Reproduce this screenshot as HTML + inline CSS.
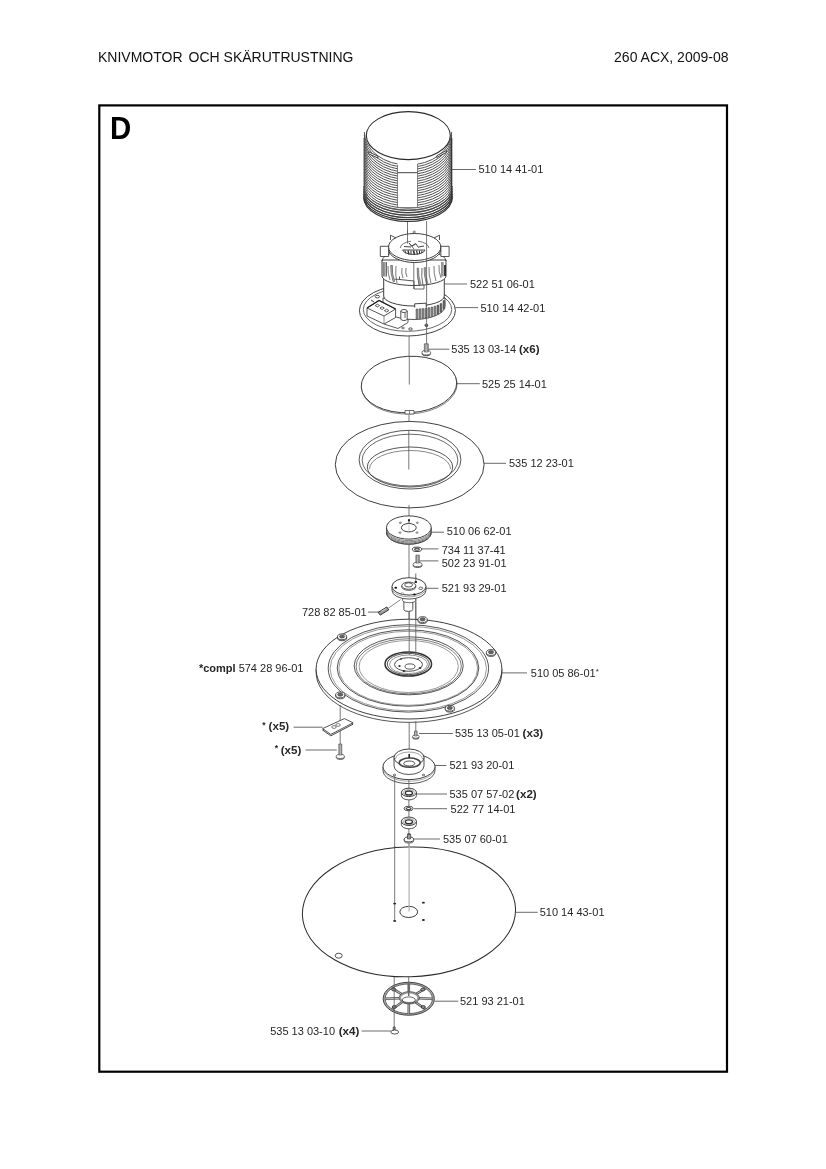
<!DOCTYPE html>
<html><head><meta charset="utf-8"><style>
html,body{margin:0;padding:0;background:#fff;}
body{width:826px;height:1169px;position:relative;overflow:hidden;font-family:"Liberation Sans",sans-serif;}
.hd{position:absolute;top:48px;font-size:13px;color:#111;white-space:pre;line-height:15px;}
svg{position:absolute;left:0;top:0;filter:grayscale(100%);}
svg text{font-family:"Liberation Sans",sans-serif;font-size:11px;fill:#262626;}
</style></head><body>
<svg width="826" height="1169" viewBox="0 0 826 1169">
<rect x="99.3" y="105.4" width="627.7" height="966.3" fill="none" stroke="#000" stroke-width="2.2"/>
<text transform="translate(110.1,138.7) scale(0.95,1)" x="0" y="0" style="font-size:31px;font-weight:bold;fill:#000">D</text>
<text x="98" y="61.8" style="font-size:14px;fill:#111">KNIVMOTOR</text>
<text x="188.6" y="61.8" style="font-size:14px;fill:#111">OCH SKÄRUTRUSTNING</text>
<text x="728.5" y="61.8" text-anchor="end" style="font-size:14px;fill:#111">260 ACX, 2009-08</text>
<path d="M364,136 L364,197 A44,24 0 0 0 452,197 L452,136 Z" stroke="#2a2a2a" stroke-width="0" fill="#fff" />
<path d="M364.30,132.00 A43.7,33.0 0 0 0 451.70,132.00" stroke="#4a4a4a" stroke-width="0.95" fill="none" />
<path d="M364.30,134.85 A43.7,32.55 0 0 0 451.70,134.85" stroke="#4a4a4a" stroke-width="0.95" fill="none" />
<path d="M364.30,137.70 A43.7,32.1 0 0 0 451.70,137.70" stroke="#4a4a4a" stroke-width="0.95" fill="none" />
<path d="M364.30,140.55 A43.7,31.65 0 0 0 451.70,140.55" stroke="#4a4a4a" stroke-width="0.95" fill="none" />
<path d="M364.30,143.40 A43.7,31.2 0 0 0 451.70,143.40" stroke="#4a4a4a" stroke-width="0.95" fill="none" />
<path d="M364.30,146.25 A43.7,30.75 0 0 0 451.70,146.25" stroke="#4a4a4a" stroke-width="0.95" fill="none" />
<path d="M364.30,149.10 A43.7,30.3 0 0 0 451.70,149.10" stroke="#4a4a4a" stroke-width="0.95" fill="none" />
<path d="M364.30,151.95 A43.7,29.85 0 0 0 451.70,151.95" stroke="#4a4a4a" stroke-width="0.95" fill="none" />
<path d="M364.30,154.80 A43.7,29.4 0 0 0 451.70,154.80" stroke="#4a4a4a" stroke-width="0.95" fill="none" />
<path d="M364.30,157.65 A43.7,28.95 0 0 0 451.70,157.65" stroke="#4a4a4a" stroke-width="0.95" fill="none" />
<path d="M364.30,160.50 A43.7,28.5 0 0 0 451.70,160.50" stroke="#4a4a4a" stroke-width="0.95" fill="none" />
<path d="M364.30,163.35 A43.7,28.05 0 0 0 451.70,163.35" stroke="#4a4a4a" stroke-width="0.95" fill="none" />
<path d="M364.30,166.20 A43.7,27.6 0 0 0 451.70,166.20" stroke="#4a4a4a" stroke-width="0.95" fill="none" />
<path d="M364.30,169.05 A43.7,27.15 0 0 0 451.70,169.05" stroke="#4a4a4a" stroke-width="0.95" fill="none" />
<path d="M364.30,171.90 A43.7,26.7 0 0 0 451.70,171.90" stroke="#4a4a4a" stroke-width="0.95" fill="none" />
<path d="M364.30,174.75 A43.7,26.25 0 0 0 451.70,174.75" stroke="#4a4a4a" stroke-width="0.95" fill="none" />
<path d="M364.30,177.60 A43.7,25.8 0 0 0 451.70,177.60" stroke="#4a4a4a" stroke-width="0.95" fill="none" />
<path d="M364.30,180.45 A43.7,25.35 0 0 0 451.70,180.45" stroke="#4a4a4a" stroke-width="0.95" fill="none" />
<path d="M364.30,183.30 A43.7,24.9 0 0 0 451.70,183.30" stroke="#4a4a4a" stroke-width="0.95" fill="none" />
<path d="M364.30,186.15 A43.7,24.45 0 0 0 451.70,186.15" stroke="#4a4a4a" stroke-width="0.95" fill="none" />
<path d="M364.30,189.00 A43.7,24.0 0 0 0 451.70,189.00" stroke="#4a4a4a" stroke-width="0.95" fill="none" />
<path d="M364.30,191.85 A43.7,23.549999999999997 0 0 0 451.70,191.85" stroke="#4a4a4a" stroke-width="0.95" fill="none" />
<path d="M364.30,194.70 A43.7,23.1 0 0 0 451.70,194.70" stroke="#4a4a4a" stroke-width="0.95" fill="none" />
<path d="M363.70,186.00 A44.3,24 0 0 0 452.30,186.00" stroke="#555" stroke-width="1.0" fill="none" />
<path d="M363.70,188.50 A44.3,24 0 0 0 452.30,188.50" stroke="#444" stroke-width="1.1" fill="none" />
<path d="M363.70,191.00 A44.3,24 0 0 0 452.30,191.00" stroke="#444" stroke-width="1.1" fill="none" />
<path d="M363.70,193.50 A44.3,24 0 0 0 452.30,193.50" stroke="#3a3a3a" stroke-width="1.2" fill="none" />
<path d="M363.70,195.70 A44.3,24 0 0 0 452.30,195.70" stroke="#333" stroke-width="1.2" fill="none" />
<path d="M363.70,197.50 A44.3,24 0 0 0 452.30,197.50" stroke="#333" stroke-width="1.2" fill="none" />
<path d="M397.5,163 L397.5,207.5 L417.5,207.5 L417.5,163 Z" stroke="#2a2a2a" stroke-width="0" fill="#fff" />
<path d="M397.5,165 L397.5,207.5 L417.5,207.5 L417.5,164" stroke="#555" stroke-width="0.7" fill="none" />
<line x1="397.5" y1="172.7" x2="417.5" y2="172.7" stroke="#444" stroke-width="1.0"/>
<ellipse cx="408.3" cy="135.6" rx="42" ry="24" stroke="#2a2a2a" stroke-width="1.1" fill="#fff"/>
<line x1="364" y1="138" x2="364" y2="199" stroke="#555" stroke-width="0.9"/>
<line x1="451.7" y1="138" x2="451.7" y2="199" stroke="#333" stroke-width="1.2"/>
<path d="M368.7,151.8 L377.9,156.2 L377.9,158 L368.7,153.8 Z" stroke="#333" stroke-width="0.9" fill="#fff" />
<path d="M436.8,157.5 L446.5,152.3 L446.5,150.5 L436.8,155.7 Z" stroke="#333" stroke-width="0.9" fill="#fff" />
<line x1="407.5" y1="222" x2="407.5" y2="238" stroke="#555" stroke-width="0.8"/>
<line x1="407.5" y1="238" x2="407.5" y2="262" stroke="#555" stroke-width="0.8"/>
<ellipse cx="407.4" cy="310.6" rx="48" ry="25.4" stroke="#2a2a2a" stroke-width="0.9" fill="#fff"/>
<ellipse cx="407.5" cy="309.5" rx="44.2" ry="21.8" stroke="#2a2a2a" stroke-width="0.7" fill="none"/>
<ellipse cx="426.3" cy="325.1" rx="1.6" ry="1.0" stroke="#2a2a2a" stroke-width="0.8" fill="none"/>
<ellipse cx="410.5" cy="329" rx="1.8" ry="1.1" stroke="#2a2a2a" stroke-width="0.8" fill="none"/>
<path d="M383,298 L383,306 A31,13.5 0 0 0 445,306 L445,298 Z" stroke="#2a2a2a" stroke-width="0.8" fill="#fff" />
<path d="M416.0,309.0 L417.9,309.0 L417.9,318.9 L416.0,318.9 Z" stroke="#444" stroke-width="0.5" fill="#8a8a8a" />
<path d="M419.0,308.8 L420.9,308.8 L420.9,318.7 L419.0,318.7 Z" stroke="#444" stroke-width="0.5" fill="#8a8a8a" />
<path d="M422.0,308.6 L423.9,308.6 L423.9,318.4 L422.0,318.4 Z" stroke="#444" stroke-width="0.5" fill="#8a8a8a" />
<path d="M425.0,308.2 L426.9,308.2 L426.9,318.0 L425.0,318.0 Z" stroke="#444" stroke-width="0.5" fill="#8a8a8a" />
<path d="M428.0,307.7 L429.9,307.7 L429.9,317.3 L428.0,317.3 Z" stroke="#444" stroke-width="0.5" fill="#8a8a8a" />
<path d="M431.0,307.1 L432.9,307.1 L432.9,316.5 L431.0,316.5 Z" stroke="#444" stroke-width="0.5" fill="#8a8a8a" />
<path d="M434.0,306.2 L435.9,306.2 L435.9,315.5 L434.0,315.5 Z" stroke="#444" stroke-width="0.5" fill="#8a8a8a" />
<path d="M437.0,305.1 L438.9,305.1 L438.9,314.1 L437.0,314.1 Z" stroke="#444" stroke-width="0.5" fill="#666" />
<path d="M440.0,303.6 L441.9,303.6 L441.9,312.2 L440.0,312.2 Z" stroke="#444" stroke-width="0.5" fill="#666" />
<path d="M443.0,300.6 L444.8,300.6 L444.8,309.1 L443.0,309.1 Z" stroke="#444" stroke-width="0.5" fill="#666" />
<path d="M384,324 L398,328.5 L408,322.5 L408,319" stroke="#333" stroke-width="0.8" fill="none" />
<path d="M367,308 L379,300.4 L395.6,309 L395.6,317.5 L384,324 L367,316 Z" stroke="#2a2a2a" stroke-width="0.8" fill="#fff" />
<path d="M367,308 L384,316 L395.6,309" stroke="#2a2a2a" stroke-width="0.8" fill="none" />
<line x1="384" y1="316" x2="384" y2="324" stroke="#666" stroke-width="0.7"/>
<path d="M367,308 L379,300.4 L395.6,309" stroke="#222" stroke-width="1.3" fill="none" />
<path d="M375.2,305.6 L377.4,304.20000000000005 L379.59999999999997,305.6 L377.4,307.0 Z" stroke="#333" stroke-width="0.8" fill="#fff" />
<path d="M379.90000000000003,308.1 L382.1,306.70000000000005 L384.3,308.1 L382.1,309.5 Z" stroke="#333" stroke-width="0.8" fill="#fff" />
<path d="M384.40000000000003,310.6 L386.6,309.20000000000005 L388.8,310.6 L386.6,312.0 Z" stroke="#333" stroke-width="0.8" fill="#fff" />
<ellipse cx="377.4" cy="296.6" rx="2.2" ry="1.3" stroke="#2a2a2a" stroke-width="0.8" fill="none"/>
<path d="M371,300 L374,302" stroke="#2a2a2a" stroke-width="0.9" fill="none" />
<path d="M400.8,311 L400.8,319 A3.2,1.5 0 0 0 407.2,319 L407.2,311" stroke="#2a2a2a" stroke-width="0.8" fill="#fff" />
<ellipse cx="404" cy="311" rx="3.2" ry="1.5" stroke="#2a2a2a" stroke-width="0.8" fill="#fff"/>
<line x1="405" y1="313" x2="405" y2="318" stroke="#555" stroke-width="0.9"/>
<ellipse cx="403" cy="328" rx="1.5" ry="0.8" stroke="#2a2a2a" stroke-width="0.6" fill="none"/>
<ellipse cx="426.5" cy="326" rx="1.3" ry="0.7" stroke="#2a2a2a" stroke-width="0.6" fill="none"/>
<path d="M383.7,276 L383.7,296 A30.3,10 0 0 0 444.3,296 L444.3,276 Z" stroke="#2a2a2a" stroke-width="0.9" fill="#fff" />
<path d="M414.7,307.5 L414.7,303.8 L426.2,303.2 L426.2,306.8" stroke="#333" stroke-width="0.9" fill="#fff" />
<path d="M382,260 L382,276 A32,9.5 0 0 0 446,276 L446,260 Z" stroke="#2a2a2a" stroke-width="0.9" fill="#fff" />
<path d="M382,261 A32,11 0 0 1 446,261" stroke="#2a2a2a" stroke-width="0.8" fill="none" />
<line x1="383.3" y1="262" x2="383.3" y2="276.5" stroke="#444" stroke-width="0.8"/>
<line x1="384.8" y1="262" x2="384.8" y2="276.5" stroke="#444" stroke-width="0.8"/>
<line x1="386.3" y1="262" x2="386.3" y2="276.5" stroke="#444" stroke-width="1.0"/>
<line x1="441.8" y1="262" x2="441.8" y2="276.5" stroke="#444" stroke-width="0.8"/>
<line x1="443" y1="262" x2="443" y2="276.5" stroke="#444" stroke-width="0.8"/>
<path d="M444.2,265 L445.8,265 L445.8,276 L444.2,276 Z" stroke="#2a2a2a" stroke-width="0" fill="#111" />
<path d="M399.5,276.5 L399.5,279.5 L414,281 L414,285.5" stroke="#2a2a2a" stroke-width="0.8" fill="none" />
<path d="M392,279 L399.5,279.5" stroke="#2a2a2a" stroke-width="0.7" fill="none" />
<path d="M414,285.5 L414,289 L424,289 L424,285" stroke="#2a2a2a" stroke-width="0.7" fill="none" />
<path d="M388,266 Q387.5,273.0 390,280" stroke="#444" stroke-width="0.7" fill="none" />
<path d="M392,265 Q391.5,273.5 394,282" stroke="#444" stroke-width="0.9" fill="none" />
<path d="M396,266 Q395.0,274.5 397,283" stroke="#444" stroke-width="0.7" fill="none" />
<path d="M402,268 Q401.0,273.0 403,278" stroke="#444" stroke-width="0.7" fill="none" />
<path d="M406,268 Q405.0,272.5 407,277" stroke="#444" stroke-width="0.7" fill="none" />
<path d="M418,269 Q417.0,277.0 419,285" stroke="#444" stroke-width="0.8" fill="none" />
<path d="M422,268 Q421.0,276.5 423,285" stroke="#444" stroke-width="0.8" fill="none" />
<path d="M425,268 Q424.5,276.0 427,284" stroke="#444" stroke-width="0.8" fill="none" />
<path d="M429,267 Q428.5,275.0 431,283" stroke="#444" stroke-width="0.7" fill="none" />
<path d="M434,266 Q433.5,273.5 436,281" stroke="#444" stroke-width="0.7" fill="none" />
<path d="M439,265 Q438.5,271.5 441,278" stroke="#444" stroke-width="0.7" fill="none" />
<path d="M390.5,265.5 Q390.25,273.5 393,281.5 L394.6,281.2 Q391.85,273.5 392.1,265.5 Z" stroke="#555" stroke-width="0.5" fill="#aaa" />
<path d="M417,268 Q416.75,276.5 419.5,285 L421.1,284.7 Q418.35,276.5 418.6,268 Z" stroke="#555" stroke-width="0.5" fill="#aaa" />
<path d="M424,267.5 Q423.75,276.0 426.5,284.5 L428.1,284.2 Q425.35,276.0 425.6,267.5 Z" stroke="#555" stroke-width="0.5" fill="#aaa" />
<line x1="413.8" y1="262" x2="413.8" y2="289" stroke="#555" stroke-width="0.8"/>
<ellipse cx="414.7" cy="249" rx="26.2" ry="13.5" stroke="#2a2a2a" stroke-width="0.9" fill="#fff"/>
<ellipse cx="414.7" cy="247" rx="26.2" ry="13.5" stroke="#2a2a2a" stroke-width="0.9" fill="#fff"/>
<path d="M380.3,246.3 L388.6,246.3 L388.6,256.5 L380.3,256.5 Z" stroke="#2a2a2a" stroke-width="0.8" fill="#fff" />
<path d="M440.9,246.3 L449.1,246.3 L449.1,256.5 L440.9,256.5 Z" stroke="#2a2a2a" stroke-width="0.8" fill="#fff" />
<path d="M390.5,240 L390.5,235.2 L396,238" stroke="#2a2a2a" stroke-width="0.8" fill="none" />
<path d="M439.5,240 L439.5,235.2 L434,238" stroke="#2a2a2a" stroke-width="0.8" fill="none" />
<ellipse cx="414.2" cy="232" rx="1.2" ry="0.9" stroke="#2a2a2a" stroke-width="0.6" fill="none"/>
<path d="M400.3,248 A14.3,7 0 0 1 411,241.2" stroke="#555" stroke-width="0.8" fill="none" />
<path d="M418,241.2 A14.3,7 0 0 1 428.9,248" stroke="#555" stroke-width="0.8" fill="none" />
<path d="M402.7,250 A11.2,4.9 0 0 0 425,250 Z" stroke="#333" stroke-width="0.9" fill="#fff" />
<line x1="408" y1="250.5" x2="409" y2="254.5" stroke="#333" stroke-width="1.4"/>
<line x1="411" y1="250.5" x2="411" y2="254.6" stroke="#333" stroke-width="1.0"/>
<line x1="413.5" y1="250.5" x2="414.5" y2="254.7" stroke="#333" stroke-width="1.6"/>
<line x1="416.5" y1="250.5" x2="417.5" y2="254.5" stroke="#333" stroke-width="1.2"/>
<line x1="419.5" y1="250.5" x2="419.5" y2="254" stroke="#333" stroke-width="1.0"/>
<line x1="405" y1="250.5" x2="406" y2="253.5" stroke="#333" stroke-width="0.9"/>
<line x1="422" y1="250.5" x2="421.5" y2="253" stroke="#333" stroke-width="0.9"/>
<line x1="404" y1="246.5" x2="411" y2="247" stroke="#444" stroke-width="1.0"/>
<line x1="409" y1="243" x2="412" y2="246.5" stroke="#444" stroke-width="1.0"/>
<line x1="412" y1="246" x2="416" y2="243.5" stroke="#444" stroke-width="1.1"/>
<line x1="416" y1="244" x2="418.5" y2="247.5" stroke="#444" stroke-width="1.0"/>
<line x1="418.5" y1="247" x2="424" y2="246" stroke="#444" stroke-width="1.0"/>
<line x1="410" y1="244" x2="414" y2="249" stroke="#444" stroke-width="0.8"/>
<line x1="426.6" y1="221" x2="426.6" y2="344" stroke="#555" stroke-width="0.8"/>
<line x1="407.5" y1="230" x2="407.5" y2="243.5" stroke="#555" stroke-width="0.8"/>
<line x1="409.1" y1="336" x2="409.1" y2="345" stroke="#555" stroke-width="0.8"/>
<path d="M422.0,352.6 A4.3,2.3 0 0 0 430.6,352.6" stroke="#333" stroke-width="0.9" fill="#fff" transform="translate(0,0.8)"/>
<ellipse cx="426.3" cy="352.6" rx="4.3" ry="2.3" stroke="#444" stroke-width="0.8" fill="#fff"/>
<path d="M424.3,343.8 L424.3,352 L428.3,352 L428.3,343.8 Z" stroke="#444" stroke-width="0.6" fill="#999" />
<line x1="426.3" y1="344.3" x2="426.3" y2="352" stroke="#ddd" stroke-width="0.5"/>
<line x1="409.1" y1="345" x2="409.1" y2="356" stroke="#555" stroke-width="0.8"/>
<g transform="rotate(-3 409 385)">
<ellipse cx="409.3" cy="385.8" rx="47.8" ry="28.2" stroke="#555" stroke-width="0.7" fill="#fff"/>
<ellipse cx="409" cy="384.5" rx="47.8" ry="28.2" stroke="#2a2a2a" stroke-width="0.9" fill="#fff"/>
</g>
<line x1="409.3" y1="356" x2="409.3" y2="384.6" stroke="#555" stroke-width="0.8"/>
<path d="M405,410.5 L405,414 L414,414 L414,410.5 Z" stroke="#444" stroke-width="0.8" fill="#fff" />
<line x1="409.5" y1="410.5" x2="409.5" y2="414" stroke="#555" stroke-width="0.7"/>
<line x1="409" y1="415" x2="409" y2="430" stroke="#555" stroke-width="0.8"/>
<ellipse cx="409.7" cy="464.65" rx="74.4" ry="43.25" stroke="#2a2a2a" stroke-width="0.9" fill="#fff"/>
<ellipse cx="410" cy="459.65" rx="50.9" ry="29.35" stroke="#2a2a2a" stroke-width="0.8" fill="none"/>
<ellipse cx="410" cy="460.1" rx="47.85" ry="25.9" stroke="#2a2a2a" stroke-width="0.7" fill="none"/>
<ellipse cx="410" cy="467" rx="42.7" ry="20" stroke="#2a2a2a" stroke-width="0.8" fill="none"/>
<path d="M369.5,469 A40.5,18.5 0 0 1 450.5,469" stroke="#555" stroke-width="0.7" fill="none" />
<line x1="408.8" y1="430" x2="408.8" y2="469.5" stroke="#555" stroke-width="0.8"/>
<line x1="409" y1="505" x2="409" y2="518" stroke="#555" stroke-width="0.8"/>
<path d="M386.5,527.5 L386.5,532.5 A22.35,11.6 0 0 0 431.2,532.5 L431.2,527.5 Z" stroke="#2a2a2a" stroke-width="0.8" fill="#fff" />
<path d="M386.50,529.00 A22.35,11.6 0 0 0 431.20,529.00" stroke="#555" stroke-width="0.7" fill="none" />
<path d="M386.50,530.30 A22.35,11.6 0 0 0 431.20,530.30" stroke="#666" stroke-width="0.9" fill="none" />
<path d="M386.50,531.50 A22.35,11.6 0 0 0 431.20,531.50" stroke="#555" stroke-width="0.8" fill="none" />
<path d="M386.50,532.70 A22.35,11.6 0 0 0 431.20,532.70" stroke="#444" stroke-width="0.8" fill="none" />
<ellipse cx="408.85" cy="527.5" rx="22.35" ry="11.6" stroke="#2a2a2a" stroke-width="0.9" fill="#fff"/>
<ellipse cx="408.8" cy="527.7" rx="7.45" ry="4.2" stroke="#2a2a2a" stroke-width="0.9" fill="none"/>
<ellipse cx="400.3" cy="522.8" rx="1.0" ry="0.7" stroke="#2a2a2a" stroke-width="0.6" fill="none"/>
<ellipse cx="417.4" cy="522.8" rx="1.0" ry="0.7" stroke="#2a2a2a" stroke-width="0.6" fill="none"/>
<ellipse cx="400" cy="532.6" rx="1.0" ry="0.7" stroke="#2a2a2a" stroke-width="0.6" fill="none"/>
<ellipse cx="417" cy="532.6" rx="1.0" ry="0.7" stroke="#2a2a2a" stroke-width="0.6" fill="none"/>
<rect x="408" y="519.2" width="2" height="2.2" fill="#222"/>
<line x1="409" y1="521.5" x2="409" y2="523.5" stroke="#333" stroke-width="0.8"/>
<line x1="409" y1="525" x2="409" y2="531" stroke="#999" stroke-width="0.5"/>
<ellipse cx="417" cy="549.3" rx="4.7" ry="2.2" stroke="#2a2a2a" stroke-width="0.9" fill="#fff"/>
<ellipse cx="417" cy="549.3" rx="2.4" ry="1.0" stroke="#444" stroke-width="1.1" fill="none"/>
<path d="M413.1,564.5 A4.5,2.1 0 0 0 422.1,564.5" stroke="#333" stroke-width="0.9" fill="#fff" transform="translate(0,0.8)"/>
<ellipse cx="417.6" cy="564.5" rx="4.5" ry="2.1" stroke="#444" stroke-width="0.8" fill="#fff"/>
<path d="M415.90000000000003,555.1 L415.90000000000003,563 L419.3,563 L419.3,555.1 Z" stroke="#444" stroke-width="0.6" fill="#999" />
<line x1="417.6" y1="555.6" x2="417.6" y2="563" stroke="#ddd" stroke-width="0.5"/>
<line x1="409" y1="544" x2="409" y2="580" stroke="#555" stroke-width="0.8"/>
<path d="M403.9,600 L403.9,609.5 A4.45,1.9 0 0 0 412.8,609.5 L412.8,600" stroke="#2a2a2a" stroke-width="0.8" fill="#fff" />
<path d="M402.6,597 L402.6,600.5 A6.6,2.2 0 0 0 415.8,600.5 L415.8,597 Z" stroke="#2a2a2a" stroke-width="0.7" fill="#fff" />
<path d="M392,586.4 L392,590.4 A17,8.7 0 0 0 426,590.4 L426,586.4 Z" stroke="#2a2a2a" stroke-width="0.8" fill="#fff" />
<path d="M392.00,588.20 A17,8.7 0 0 0 426.00,588.20" stroke="#666" stroke-width="0.6" fill="none" />
<ellipse cx="409" cy="586.4" rx="17" ry="8.7" stroke="#2a2a2a" stroke-width="0.9" fill="#fff"/>
<path d="M401.8,585.7 L401.8,587 A7,3.4 0 0 0 415.8,587 L415.8,585.7" stroke="#2a2a2a" stroke-width="0.7" fill="#fff" />
<ellipse cx="408.8" cy="585.7" rx="7" ry="3.6" stroke="#2a2a2a" stroke-width="0.8" fill="#fff"/>
<ellipse cx="408.6" cy="584.9" rx="3.9" ry="2.1" stroke="#2a2a2a" stroke-width="0.8" fill="none"/>
<ellipse cx="395.8" cy="587.7" rx="1.4" ry="1.0" stroke="#2a2a2a" stroke-width="0" fill="#111"/>
<ellipse cx="415.8" cy="582" rx="1.4" ry="1.0" stroke="#2a2a2a" stroke-width="0" fill="#111"/>
<ellipse cx="414.5" cy="594.5" rx="1.4" ry="1.0" stroke="#2a2a2a" stroke-width="0" fill="#111"/>
<ellipse cx="420.8" cy="588.3" rx="2.0" ry="1.2" stroke="#2a2a2a" stroke-width="0.7" fill="none"/>
<ellipse cx="402.2" cy="593.8" rx="1.6" ry="1.1" stroke="#777" stroke-width="0.6" fill="none"/>
<line x1="415.8" y1="573.5" x2="415.8" y2="581" stroke="#444" stroke-width="0.8"/>
<line x1="409" y1="612" x2="409" y2="625" stroke="#555" stroke-width="0.8"/>
<line x1="415.8" y1="599" x2="415.8" y2="655" stroke="#555" stroke-width="0.8"/>
<path d="M378.2,612.3 L386.8,607 L388.8,609.8 L380.2,615.1 Z" stroke="#222" stroke-width="0.9" fill="#999" />
<line x1="381" y1="611.5" x2="386" y2="608.5" stroke="#ddd" stroke-width="0.8"/>
<line x1="388.5" y1="608" x2="400.5" y2="599.7" stroke="#555" stroke-width="0.7"/>
<path d="M316.1,669.1 L316.1,672.5 A92.9,49.9 0 0 0 501.9,672.5 L501.9,669.1 Z" stroke="#2a2a2a" stroke-width="0.8" fill="#fff" />
<ellipse cx="409" cy="669.1" rx="92.9" ry="49.9" stroke="#2a2a2a" stroke-width="0.9" fill="#fff"/>
<ellipse cx="408.4" cy="668.4" rx="80.2" ry="43.7" stroke="#2a2a2a" stroke-width="0.8" fill="none"/>
<ellipse cx="408.3" cy="668.6" rx="78.2" ry="42.2" stroke="#555" stroke-width="0.6" fill="none"/>
<ellipse cx="408" cy="668" rx="70.8" ry="38.2" stroke="#2a2a2a" stroke-width="0.8" fill="none"/>
<ellipse cx="408.2" cy="668.3" rx="69.4" ry="37.0" stroke="#555" stroke-width="0.6" fill="none"/>
<ellipse cx="408.7" cy="665.8" rx="54.5" ry="29" stroke="#2a2a2a" stroke-width="0.8" fill="none"/>
<ellipse cx="408.7" cy="666.3" rx="52.6" ry="27.5" stroke="#444" stroke-width="0.7" fill="none"/>
<ellipse cx="408.7" cy="666.5" rx="49.6" ry="26" stroke="#555" stroke-width="0.6" fill="none"/>
<ellipse cx="408.3" cy="664" rx="23.3" ry="12" stroke="#333" stroke-width="1.5" fill="#fff"/>
<ellipse cx="408.3" cy="664" rx="21" ry="10.6" stroke="#2a2a2a" stroke-width="0.8" fill="none"/>
<ellipse cx="408.5" cy="664.3" rx="19" ry="9.3" stroke="#555" stroke-width="0.6" fill="none"/>
<ellipse cx="408.5" cy="664.5" rx="14" ry="6.8" stroke="#2a2a2a" stroke-width="0.8" fill="none"/>
<ellipse cx="410" cy="666.5" rx="5" ry="2.6" stroke="#2a2a2a" stroke-width="0.8" fill="none"/>
<ellipse cx="401" cy="659" rx="1.1" ry="0.8250000000000001" stroke="#2a2a2a" stroke-width="0" fill="#333"/>
<ellipse cx="418" cy="659" rx="1.1" ry="0.8250000000000001" stroke="#2a2a2a" stroke-width="0" fill="#333"/>
<ellipse cx="399.5" cy="666" rx="1.2" ry="0.8999999999999999" stroke="#2a2a2a" stroke-width="0" fill="#333"/>
<ellipse cx="420" cy="668" rx="1.4" ry="1.0499999999999998" stroke="#2a2a2a" stroke-width="0" fill="#333"/>
<ellipse cx="404" cy="671" rx="1.4" ry="1.0499999999999998" stroke="#2a2a2a" stroke-width="0" fill="#333"/>
<ellipse cx="342.1" cy="637.8" rx="4.6" ry="2.9" stroke="#2a2a2a" stroke-width="0.8" fill="#fff"/>
<ellipse cx="342.1" cy="636.8" rx="4.6" ry="2.9" stroke="#2a2a2a" stroke-width="0.8" fill="#fff"/>
<ellipse cx="342.1" cy="636.5" rx="2.6" ry="1.6" stroke="#333" stroke-width="0.6" fill="#666"/>
<ellipse cx="422.6" cy="620.6" rx="4.6" ry="2.9" stroke="#2a2a2a" stroke-width="0.8" fill="#fff"/>
<ellipse cx="422.6" cy="619.6" rx="4.6" ry="2.9" stroke="#2a2a2a" stroke-width="0.8" fill="#fff"/>
<ellipse cx="422.6" cy="619.3000000000001" rx="2.6" ry="1.6" stroke="#333" stroke-width="0.6" fill="#666"/>
<ellipse cx="491" cy="653.5" rx="4.6" ry="2.9" stroke="#2a2a2a" stroke-width="0.8" fill="#fff"/>
<ellipse cx="491" cy="652.5" rx="4.6" ry="2.9" stroke="#2a2a2a" stroke-width="0.8" fill="#fff"/>
<ellipse cx="491" cy="652.2" rx="2.6" ry="1.6" stroke="#333" stroke-width="0.6" fill="#666"/>
<ellipse cx="340.3" cy="695.9" rx="4.6" ry="2.9" stroke="#2a2a2a" stroke-width="0.8" fill="#fff"/>
<ellipse cx="340.3" cy="694.9" rx="4.6" ry="2.9" stroke="#2a2a2a" stroke-width="0.8" fill="#fff"/>
<ellipse cx="340.3" cy="694.6" rx="2.6" ry="1.6" stroke="#333" stroke-width="0.6" fill="#666"/>
<ellipse cx="449.8" cy="709.2" rx="4.6" ry="2.9" stroke="#2a2a2a" stroke-width="0.8" fill="#fff"/>
<ellipse cx="449.8" cy="708.2" rx="4.6" ry="2.9" stroke="#2a2a2a" stroke-width="0.8" fill="#fff"/>
<ellipse cx="449.8" cy="707.9000000000001" rx="2.6" ry="1.6" stroke="#333" stroke-width="0.6" fill="#666"/>
<line x1="409.2" y1="611" x2="409.2" y2="655" stroke="#555" stroke-width="0.8"/>
<line x1="415.8" y1="602" x2="415.8" y2="655" stroke="#555" stroke-width="0.8"/>
<line x1="340.2" y1="705" x2="340.2" y2="744" stroke="#555" stroke-width="0.8"/>
<line x1="415.8" y1="721" x2="415.8" y2="731" stroke="#555" stroke-width="0.8"/>
<line x1="409.2" y1="722" x2="409.2" y2="750" stroke="#555" stroke-width="0.8"/>
<path d="M322.6,730 L344.4,720 L353.1,724.2 L330.8,735.8 Z" stroke="#333" stroke-width="0.9" fill="#fff" />
<path d="M322.6,728.6 L344.4,718.6 L353.1,722.8 L330.8,734.4 Z" stroke="#2a2a2a" stroke-width="0.8" fill="#fff" />
<ellipse cx="334" cy="727" rx="2.2" ry="1.4" stroke="#2a2a2a" stroke-width="0.6" fill="none"/>
<ellipse cx="338" cy="725" rx="2.2" ry="1.4" stroke="#2a2a2a" stroke-width="0.6" fill="none"/>
<path d="M336.2,756.4 A4.1,2.1 0 0 0 344.40000000000003,756.4" stroke="#333" stroke-width="0.9" fill="#fff" transform="translate(0,0.8)"/>
<ellipse cx="340.3" cy="756.4" rx="4.1" ry="2.1" stroke="#444" stroke-width="0.8" fill="#fff"/>
<path d="M338.8,744 L338.8,755 L341.8,755 L341.8,744 Z" stroke="#444" stroke-width="0.6" fill="#999" />
<line x1="340.3" y1="744.5" x2="340.3" y2="755" stroke="#ddd" stroke-width="0.5"/>
<path d="M412.5,736.6 A3.3,1.7 0 0 0 419.1,736.6" stroke="#333" stroke-width="0.9" fill="#fff" transform="translate(0,0.8)"/>
<ellipse cx="415.8" cy="736.6" rx="3.3" ry="1.7" stroke="#444" stroke-width="0.8" fill="#fff"/>
<path d="M414.5,731 L414.5,736 L417.1,736 L417.1,731 Z" stroke="#444" stroke-width="0.6" fill="#999" />
<line x1="415.8" y1="731.5" x2="415.8" y2="736" stroke="#ddd" stroke-width="0.5"/>
<path d="M383,766.6 L383,770.6 A26,13 0 0 0 435,770.6 L435,766.6 Z" stroke="#2a2a2a" stroke-width="0.8" fill="#fff" />
<ellipse cx="409" cy="766.6" rx="26" ry="13" stroke="#2a2a2a" stroke-width="0.9" fill="#fff"/>
<path d="M383.50,768.60 A25.5,12.6 0 0 0 434.50,768.60" stroke="#777" stroke-width="0.6" fill="none" />
<path d="M394,757.5 L394,766 A15,8.5 0 0 0 424,766 L424,757.5" stroke="#2a2a2a" stroke-width="0.8" fill="#fff" />
<ellipse cx="409" cy="757.5" rx="15" ry="8.5" stroke="#2a2a2a" stroke-width="0.9" fill="#fff"/>
<path d="M395.5,759 A13.5,7 0 0 1 422.5,759" stroke="#666" stroke-width="0.6" fill="none" />
<ellipse cx="409.7" cy="762.7" rx="10.5" ry="4.6" stroke="#444" stroke-width="1.5" fill="#fff"/>
<ellipse cx="409.2" cy="763.5" rx="5.5" ry="2.5" stroke="#2a2a2a" stroke-width="0.8" fill="none"/>
<line x1="409.2" y1="754" x2="409.2" y2="758" stroke="#222" stroke-width="1.6"/>
<ellipse cx="394.5" cy="775" rx="1.2" ry="0.8" stroke="#2a2a2a" stroke-width="0.7" fill="none"/>
<ellipse cx="423.5" cy="775" rx="1.2" ry="0.8" stroke="#2a2a2a" stroke-width="0.7" fill="none"/>
<line x1="408.9" y1="779" x2="408.9" y2="846" stroke="#666" stroke-width="0.9"/>
<path d="M401.4,792.4 L401.4,795.6999999999999 A7.5,4.2 0 0 0 416.4,795.6999999999999 L416.4,792.4 Z" stroke="#2a2a2a" stroke-width="0.8" fill="#fff" />
<ellipse cx="408.9" cy="792.4" rx="7.5" ry="4.2" stroke="#2a2a2a" stroke-width="0.9" fill="#fff"/>
<ellipse cx="408.9" cy="792.6999999999999" rx="5.6" ry="3.0" stroke="#666" stroke-width="0.6" fill="none"/>
<ellipse cx="408.9" cy="792.9" rx="3.6" ry="1.9" stroke="#333" stroke-width="1.3" fill="#fff"/>
<ellipse cx="408.6" cy="808.5" rx="4.4" ry="2.2" stroke="#2a2a2a" stroke-width="0.9" fill="#fff"/>
<ellipse cx="408.6" cy="808.6" rx="2.4" ry="1.1" stroke="#444" stroke-width="1.2" fill="none"/>
<path d="M401.4,821.3 L401.4,824.5999999999999 A7.5,4.2 0 0 0 416.4,824.5999999999999 L416.4,821.3 Z" stroke="#2a2a2a" stroke-width="0.8" fill="#fff" />
<ellipse cx="408.9" cy="821.3" rx="7.5" ry="4.2" stroke="#2a2a2a" stroke-width="0.9" fill="#fff"/>
<ellipse cx="408.9" cy="821.5999999999999" rx="5.6" ry="3.0" stroke="#666" stroke-width="0.6" fill="none"/>
<ellipse cx="408.9" cy="821.8" rx="3.6" ry="1.9" stroke="#333" stroke-width="1.3" fill="#fff"/>
<path d="M404.2,839.4 L404.2,840.6 A4.7,2.5 0 0 0 413.6,840.6 L413.6,839.4 Z" stroke="#2a2a2a" stroke-width="0.7" fill="#fff" />
<ellipse cx="408.9" cy="839.4" rx="4.7" ry="2.5" stroke="#2a2a2a" stroke-width="0.9" fill="#fff"/>
<path d="M407.5,834 L407.5,839 L410.6,839 L410.6,834 Z" stroke="#2a2a2a" stroke-width="0.6" fill="#999" />
<ellipse cx="409" cy="834" rx="1.55" ry="0.6" stroke="#2a2a2a" stroke-width="0" fill="#333"/>
<line x1="394.7" y1="776" x2="394.7" y2="921" stroke="#555" stroke-width="0.8"/>
<g transform="rotate(-1.7 408.95 911.9)">
<ellipse cx="408.95" cy="911.9" rx="106.6" ry="64.9" stroke="#2a2a2a" stroke-width="1.0" fill="#fff"/>
</g>
<ellipse cx="408.75" cy="911.9" rx="8.9" ry="5.6" stroke="#2a2a2a" stroke-width="0.9" fill="#fff"/>
<line x1="394.7" y1="846" x2="394.7" y2="921" stroke="#555" stroke-width="0.8"/>
<line x1="409.1" y1="843" x2="409.1" y2="911.5" stroke="#aaa" stroke-width="1.1"/>
<ellipse cx="394.7" cy="903.6" rx="1.5" ry="0.9" stroke="#2a2a2a" stroke-width="0" fill="#222"/>
<ellipse cx="423.4" cy="902.7" rx="1.5" ry="0.9" stroke="#2a2a2a" stroke-width="0" fill="#222"/>
<ellipse cx="394.7" cy="920.9" rx="1.5" ry="0.9" stroke="#2a2a2a" stroke-width="0" fill="#222"/>
<ellipse cx="423.4" cy="920" rx="1.5" ry="0.9" stroke="#2a2a2a" stroke-width="0" fill="#222"/>
<ellipse cx="338.7" cy="955.7" rx="3.5" ry="2.5" stroke="#2a2a2a" stroke-width="0.8" fill="none"/>
<line x1="408.7" y1="977" x2="408.7" y2="996" stroke="#555" stroke-width="0.8"/>
<ellipse cx="408.75" cy="998.75" rx="25.6" ry="16.5" stroke="#2a2a2a" stroke-width="0" fill="#fff"/>
<ellipse cx="408.75" cy="998.75" rx="24.6" ry="15.6" stroke="#aaa" stroke-width="1.8" fill="none"/>
<ellipse cx="408.75" cy="998.75" rx="25.6" ry="16.5" stroke="#333" stroke-width="0.9" fill="none"/>
<ellipse cx="408.75" cy="998.75" rx="23.6" ry="14.8" stroke="#444" stroke-width="0.8" fill="none"/>
<line x1="418.2" y1="998.3" x2="432.4" y2="998.8" stroke="#555" stroke-width="2.6"/>
<line x1="418.2" y1="998.3" x2="432.4" y2="998.8" stroke="#bbb" stroke-width="1.0"/>
<line x1="415.5" y1="1002.2" x2="425.4" y2="1009.2" stroke="#555" stroke-width="2.6"/>
<line x1="415.5" y1="1002.2" x2="425.4" y2="1009.2" stroke="#bbb" stroke-width="1.0"/>
<line x1="408.8" y1="1003.8" x2="408.8" y2="1013.5" stroke="#555" stroke-width="2.6"/>
<line x1="408.8" y1="1003.8" x2="408.8" y2="1013.5" stroke="#bbb" stroke-width="1.0"/>
<line x1="402.0" y1="1002.2" x2="392.1" y2="1009.2" stroke="#555" stroke-width="2.6"/>
<line x1="402.0" y1="1002.2" x2="392.1" y2="1009.2" stroke="#bbb" stroke-width="1.0"/>
<line x1="399.2" y1="998.3" x2="385.1" y2="998.8" stroke="#555" stroke-width="2.6"/>
<line x1="399.2" y1="998.3" x2="385.1" y2="998.8" stroke="#bbb" stroke-width="1.0"/>
<line x1="402.0" y1="994.4" x2="392.1" y2="988.3" stroke="#555" stroke-width="2.6"/>
<line x1="402.0" y1="994.4" x2="392.1" y2="988.3" stroke="#bbb" stroke-width="1.0"/>
<line x1="408.8" y1="992.8" x2="408.8" y2="984.0" stroke="#555" stroke-width="2.6"/>
<line x1="408.8" y1="992.8" x2="408.8" y2="984.0" stroke="#bbb" stroke-width="1.0"/>
<line x1="415.5" y1="994.4" x2="425.4" y2="988.3" stroke="#555" stroke-width="2.6"/>
<line x1="415.5" y1="994.4" x2="425.4" y2="988.3" stroke="#bbb" stroke-width="1.0"/>
<ellipse cx="393.7" cy="989.5" rx="2.0" ry="1.4" stroke="#333" stroke-width="0.9" fill="#999"/>
<ellipse cx="422.8" cy="989.5" rx="2.0" ry="1.4" stroke="#333" stroke-width="0.9" fill="#999"/>
<ellipse cx="394.2" cy="1007" rx="2.0" ry="1.4" stroke="#333" stroke-width="0.9" fill="#999"/>
<ellipse cx="423.3" cy="1007" rx="2.0" ry="1.4" stroke="#333" stroke-width="0.9" fill="#999"/>
<ellipse cx="409.2" cy="997.8" rx="9.2" ry="5.3" stroke="#999" stroke-width="2.0" fill="#fff"/>
<ellipse cx="409.2" cy="997.8" rx="10.2" ry="6.2" stroke="#444" stroke-width="0.7" fill="none"/>
<ellipse cx="408.8" cy="1000" rx="6.6" ry="3.1" stroke="#444" stroke-width="0.8" fill="none"/>
<line x1="408.7" y1="983" x2="408.7" y2="996" stroke="#666" stroke-width="1.4"/>
<line x1="394.2" y1="977" x2="394.2" y2="1027" stroke="#555" stroke-width="0.8"/>
<path d="M393.2,1027 L393.2,1031 L395.2,1031 L395.2,1027 Z" stroke="#2a2a2a" stroke-width="0.6" fill="#888" />
<ellipse cx="394.7" cy="1032" rx="3.9" ry="2" stroke="#2a2a2a" stroke-width="0.8" fill="#fff"/>
<line x1="451.5" y1="169.5" x2="476" y2="169.5" stroke="#444" stroke-width="0.8"/>
<line x1="444.4" y1="284" x2="467" y2="284" stroke="#444" stroke-width="0.8"/>
<line x1="455.3" y1="307.6" x2="478" y2="307.6" stroke="#444" stroke-width="0.8"/>
<line x1="428.5" y1="349.2" x2="449.2" y2="349.2" stroke="#444" stroke-width="0.8"/>
<line x1="457" y1="383.7" x2="479.8" y2="383.7" stroke="#444" stroke-width="0.8"/>
<line x1="484" y1="463.3" x2="506" y2="463.3" stroke="#444" stroke-width="0.8"/>
<line x1="431.5" y1="532.2" x2="444" y2="532.2" stroke="#444" stroke-width="0.8"/>
<line x1="421.8" y1="548.9" x2="438.4" y2="548.9" stroke="#444" stroke-width="0.8"/>
<line x1="419.6" y1="560.9" x2="438.4" y2="560.9" stroke="#444" stroke-width="0.8"/>
<line x1="425.4" y1="588.3" x2="438.4" y2="588.3" stroke="#444" stroke-width="0.8"/>
<line x1="368" y1="612.1" x2="379" y2="612.1" stroke="#444" stroke-width="0.8"/>
<line x1="502" y1="672.9" x2="527" y2="672.9" stroke="#444" stroke-width="0.8"/>
<line x1="293.6" y1="727.2" x2="322.6" y2="727.2" stroke="#444" stroke-width="0.8"/>
<line x1="305.4" y1="750" x2="336.8" y2="750" stroke="#444" stroke-width="0.8"/>
<line x1="419" y1="733.5" x2="452.8" y2="733.5" stroke="#444" stroke-width="0.8"/>
<line x1="435" y1="765.5" x2="446.3" y2="765.5" stroke="#444" stroke-width="0.8"/>
<line x1="416" y1="794" x2="447" y2="794" stroke="#444" stroke-width="0.8"/>
<line x1="414" y1="808.7" x2="447" y2="808.7" stroke="#444" stroke-width="0.8"/>
<line x1="414" y1="839" x2="440" y2="839" stroke="#444" stroke-width="0.8"/>
<line x1="515.7" y1="912.3" x2="537.7" y2="912.3" stroke="#444" stroke-width="0.8"/>
<line x1="434.4" y1="1001.2" x2="458.3" y2="1001.2" stroke="#444" stroke-width="0.8"/>
<line x1="361.7" y1="1031" x2="390.8" y2="1031" stroke="#444" stroke-width="0.8"/>
<text x="478.5" y="173.2">510 14 41-01</text>
<text x="470" y="288.0">522 51 06-01</text>
<text x="480.5" y="312.0">510 14 42-01</text>
<text x="451.3" y="353.3">535 13 03-14<tspan x="519.0" font-weight="bold" font-size="11.6">(x6)</tspan></text>
<text x="482" y="387.5">525 25 14-01</text>
<text x="509" y="466.6">535 12 23-01</text>
<text x="446.7" y="535.4">510 06 62-01</text>
<text x="441.7" y="553.9">734 11 37-41</text>
<text x="441.7" y="567.0">502 23 91-01</text>
<text x="441.7" y="592.0">521 93 29-01</text>
<text x="301.9" y="615.8">728 82 85-01</text>
<text x="198.9" y="672.4"><tspan font-weight="bold">*compl</tspan> 574 28 96-01</text>
<text x="530.8" y="676.7">510 05 86-01<tspan font-size="8" dy="-2.5">*</tspan></text>
<text x="262.2" y="730.1"><tspan font-weight="bold" font-size="8.5" dy="-2.6">*</tspan><tspan x="268.6" dy="2.6" font-weight="bold" font-size="11.6">(x5)</tspan></text>
<text x="274.7" y="753.8"><tspan font-weight="bold" font-size="8.5" dy="-2.6">*</tspan><tspan x="280.7" dy="2.6" font-weight="bold" font-size="11.6">(x5)</tspan></text>
<text x="455" y="737.3">535 13 05-01<tspan x="522.6" font-weight="bold" font-size="11.6">(x3)</tspan></text>
<text x="449.5" y="768.9">521 93 20-01</text>
<text x="449.5" y="798.3">535 07 57-02<tspan x="516.1" font-weight="bold" font-size="11.6">(x2)</tspan></text>
<text x="450.6" y="812.5">522 77 14-01</text>
<text x="443" y="843.0">535 07 60-01</text>
<text x="539.7" y="916.2">510 14 43-01</text>
<text x="460" y="1005.1">521 93 21-01</text>
<text x="270.2" y="1034.9">535 13 03-10<tspan x="338.7" font-weight="bold" font-size="11.6">(x4)</tspan></text>
</svg>
</body></html>
